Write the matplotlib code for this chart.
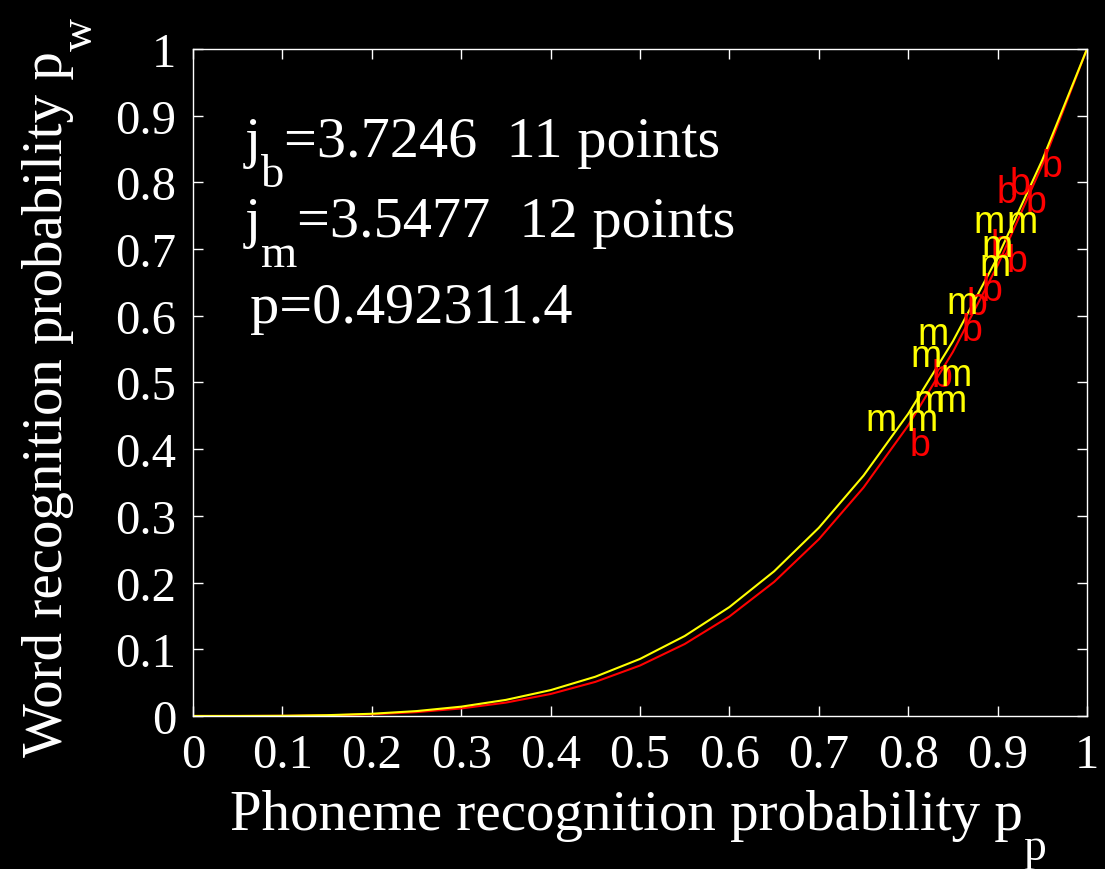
import numpy as np
import matplotlib
matplotlib.use("Agg")
import matplotlib.pyplot as plt
from matplotlib.transforms import offset_copy, IdentityTransform

plt.rcParams['font.family'] = ['Liberation Serif', 'DejaVu Serif']

# fitted exponents (p_w = p_p ** j)
j_b = 3.7246
j_m = 3.5477
p_val = "0.492311.4"

# curve sample points
pp_grid = [0.0, 0.05, 0.1, 0.15, 0.2, 0.25, 0.3, 0.35, 0.4, 0.45, 0.5,
           0.55, 0.6, 0.65, 0.7, 0.75, 0.8, 0.85, 0.9, 0.95, 1.0]

# "b" points (red)
b_pp = [0.949, 0.899, 0.914, 0.931, 0.892, 0.910, 0.882, 0.865, 0.860, 0.826, 0.802]
b_pw = [0.825, 0.786, 0.798, 0.771, 0.705, 0.682, 0.639, 0.618, 0.579, 0.510, 0.406]

# "m" points (yellow)
m_pp = [0.873, 0.910, 0.882, 0.880, 0.843, 0.810, 0.802, 0.836, 0.806, 0.830, 0.752, 0.798]
m_pw = [0.741, 0.740, 0.705, 0.676, 0.619, 0.573, 0.540, 0.511, 0.472, 0.472, 0.444, 0.444]

ticks = [0, 0.1, 0.2, 0.3, 0.4, 0.5, 0.6, 0.7, 0.8, 0.9, 1]
tick_labels = ["0", "0.1", "0.2", "0.3", "0.4", "0.5", "0.6", "0.7", "0.8", "0.9", "1"]

fig = plt.figure(figsize=(11.05, 8.7), dpi=100, facecolor='black')
ax = fig.add_axes([0.1747, 0.1759, 0.809, 0.7666], facecolor='black')
renderer = fig.canvas.get_renderer()


def sub_text(trans, x, y, parts, size, rot=0):
    # MATLAB style subscripts: big and dropped well below the baseline
    adv = 0
    for s, is_sub in parts:
        fs = size * 0.8 if is_sub else size
        drop = 0.52 * size * fig.dpi / 72 if is_sub else 0
        if rot == 0:
            dx, dy = adv, -drop
        else:
            dx, dy = drop, adv
        t = ax.text(x, y, s, transform=offset_copy(trans, fig, x=dx, y=dy, units='dots'),
                    rotation=rot, rotation_mode='anchor', fontsize=fs, color='white',
                    ha='left', va='baseline', clip_on=False)
        ext = t.get_window_extent(renderer)
        adv += ext.width if rot == 0 else ext.height


x = np.array(pp_grid)
ax.plot(x, x ** j_b, color='#ff0000', lw=1.5)
ax.plot(x, x ** j_m, color='#ffff00', lw=1.5)

for px, py in zip(b_pp, b_pw):
    ax.text(px, py, "b", color='#ff0000', fontsize=27, family='Liberation Sans',
            ha='left', va='center')
for px, py in zip(m_pp, m_pw):
    ax.text(px, py, "m", color='#ffff00', fontsize=27, family='Liberation Sans',
            ha='left', va='center')

sub_text(ax.transData, 0.058, 0.840, [("j", False), ("b", True),
                                      ("=%.4f  11 points" % j_b, False)], 42)
sub_text(ax.transData, 0.058, 0.720, [("j", False), ("m", True),
                                      ("=%.4f  12 points" % j_m, False)], 42)
ax.text(0.064, 0.591, "p=" + p_val, color='white', fontsize=42, va='baseline')

ax.set_xlim(0, 1)
ax.set_ylim(0, 1)
ax.set_xticks(ticks)
ax.set_xticklabels(tick_labels)
ax.set_yticks(ticks)
ax.set_yticklabels(tick_labels)
ax.tick_params(direction='in', length=7, width=1, colors='white', labelsize=35,
               top=True, right=True, pad=12)
for s in ax.spines.values():
    s.set_color('white')
    s.set_linewidth(1)

# axis labels (pixel positions, origin bottom-left)
sub_text(IdentityTransform(), 230, 40,
         [("Phoneme recognition probability p", False), ("p", True)], 41)
sub_text(IdentityTransform(), 62, 113,
         [("Word recognition probability p", False), ("w", True)], 41, rot=90)

fig.savefig("out.png", dpi=100, facecolor='black')
